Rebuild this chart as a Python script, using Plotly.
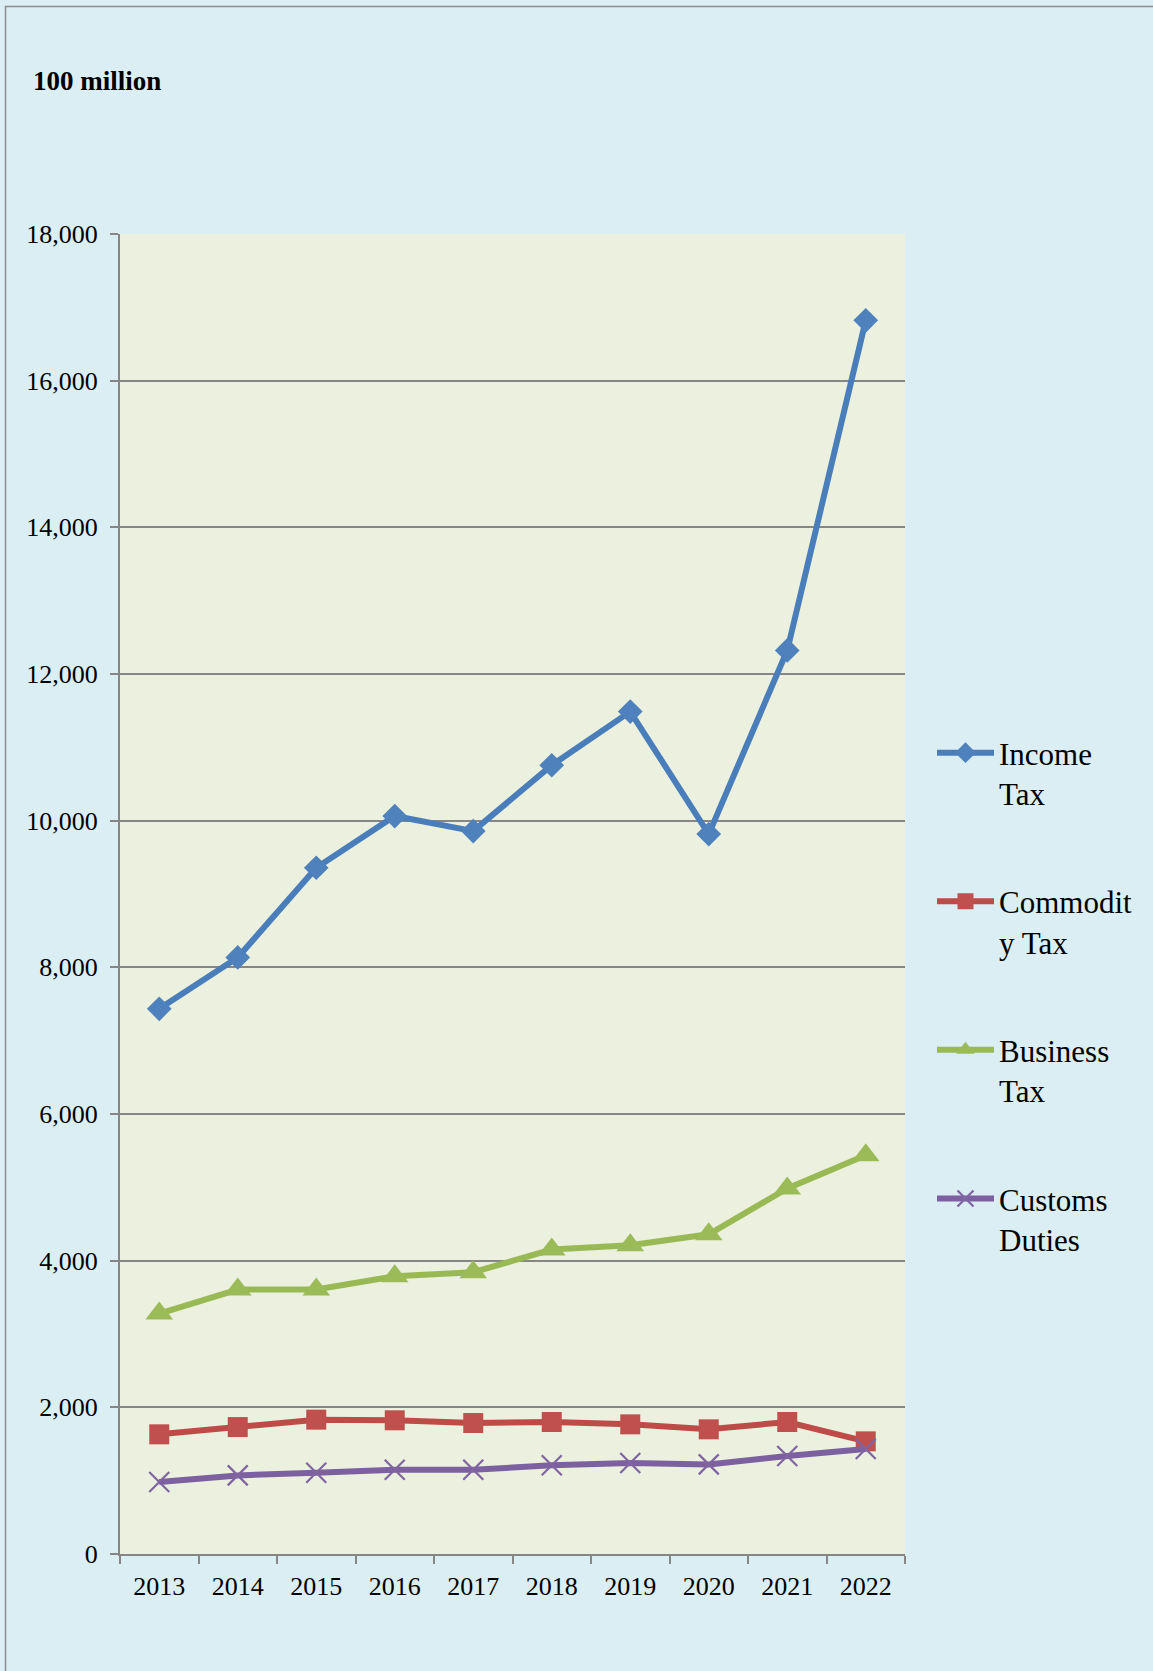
import plotly.graph_objects as go

years = ["2013", "2014", "2015", "2016", "2017", "2018", "2019", "2020", "2021", "2022"]
income_tax = [7434, 8135, 9358, 10063, 9858, 10756, 11487, 9817, 12322, 16823]
commodity_tax = [1632, 1731, 1832, 1823, 1786, 1800, 1768, 1700, 1800, 1536]
business_tax = [3278, 3606, 3606, 3787, 3842, 4151, 4210, 4360, 4984, 5438]
customs_duties = [981, 1072, 1109, 1150, 1150, 1209, 1240, 1222, 1336, 1431]
series_names = ["Income<br>Tax", "Commodit<br>y Tax", "Business<br>Tax", "Customs<br>Duties"]
y_ticks = [0, 2000, 4000, 6000, 8000, 10000, 12000, 14000, 16000, 18000]
unit_label = "100 million"

FONT = "Liberation Serif, Times New Roman, serif"
W, H = 1153, 1671
ML, MR, MT, MB = 120, 248, 234, 117

styles = [
    dict(color="#4A7EBB", symbol="diamond", size=19, mcolor="#4F81BD", lw=0),
    dict(color="#BE4B48", symbol="square", size=20, mcolor="#C0504D", lw=0),
    dict(color="#98B954", symbol="triangle-up", size=24, mcolor="#9BBB59", lw=0),
    dict(color="#7D60A0", symbol="x-thin", size=20, mcolor="#8064A2", lw=2.2),
]

fig = go.Figure()
for name, vals, st in zip(series_names, [income_tax, commodity_tax, business_tax, customs_duties], styles):
    marker = dict(symbol=st["symbol"], size=st["size"], color=st["mcolor"])
    if st["lw"]:
        marker["line"] = dict(color=st["mcolor"], width=st["lw"])
    else:
        marker["line"] = dict(width=0)
    fig.add_trace(go.Scatter(
        x=years, y=vals, name=name, mode="lines+markers",
        legendgroup=name,
        line=dict(color=st["color"], width=6),
        marker=marker,
    ))

pw = W - ML - MR
ph = H - MT - MB

def px_x(p):
    return (p - ML) / pw

def px_y(p):
    return (H - MB - p) / ph

fig.update_layout(
    width=W, height=H,
    margin=dict(l=ML, r=MR, t=MT, b=MB, pad=0),
    paper_bgcolor="#DAEEF3",
    plot_bgcolor="#EBF1DE",
    font=dict(family=FONT, size=26, color="#000000"),
    showlegend=True,
    legend=dict(
        x=px_x(932), y=px_y(726), xanchor="left", yanchor="top",
        font=dict(family=FONT, size=31, color="#000000"),
        bgcolor="rgba(0,0,0,0)",
        tracegroupgap=65,
        valign="top",
        itemwidth=57,
    ),
    xaxis=dict(
        type="category",
        range=[-0.5, 9.5],
        showline=True, linecolor="#868686", linewidth=2,
        ticks="outside", ticklen=8, tickwidth=2, tickcolor="#868686",
        tickson="boundaries",
        showgrid=False, zeroline=False,
        tickfont=dict(family=FONT, size=26, color="#000000"),
        ticklabelstandoff=8,
    ),
    yaxis=dict(
        range=[0, 18000],
        tickvals=y_ticks,
        tickformat=",d",
        showline=True, linecolor="#868686", linewidth=2,
        ticks="outside", ticklen=8, tickwidth=2, tickcolor="#868686",
        showgrid=True, gridcolor="#868686", gridwidth=1.5,
        zeroline=False,
        tickfont=dict(family=FONT, size=26, color="#000000"),
        ticklabelstandoff=7,
    ),
    annotations=[dict(
        text="<b>" + unit_label + "</b>",
        xref="paper", yref="paper",
        x=px_x(31), y=px_y(81), xanchor="left", yanchor="middle",
        showarrow=False,
        font=dict(family=FONT, size=27, color="#000000"),
    )],
    shapes=[dict(
        type="rect", xref="paper", yref="paper",
        x0=px_x(5.5), x1=px_x(1200), y0=px_y(1720), y1=px_y(6.5),
        line=dict(color="#8C8C8C", width=1.5),
        fillcolor="rgba(0,0,0,0)", layer="below",
    )],
)

fig.write_html("out.html", config={"displayModeBar": False},
               post_script="document.body.style.margin='0';")
